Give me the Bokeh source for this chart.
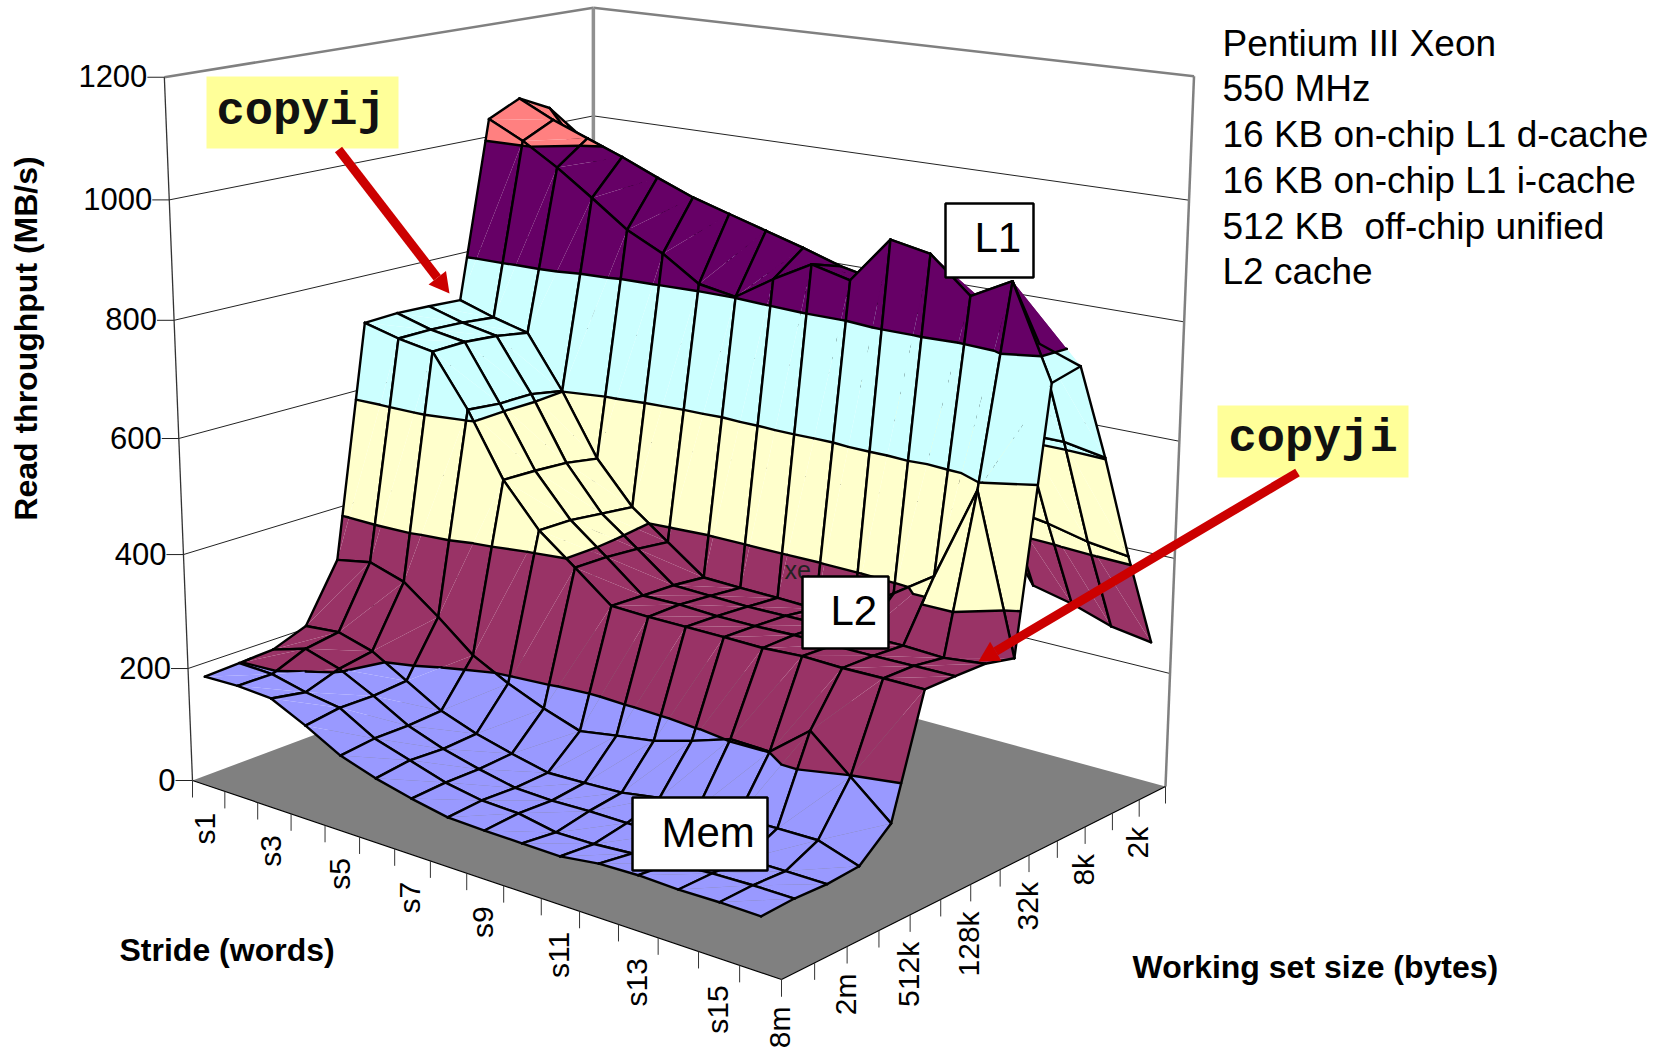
import math
import numpy as np
from bokeh.core.properties import value
from bokeh.embed import file_html
from bokeh.models import ColumnDataSource, Range1d
from bokeh.plotting import figure
from bokeh.resources import INLINE

# ---- data: read throughput (MB/s), one list per working set size, s1..s16 ----
STRIDES = ["s1", "s2", "s3", "s4", "s5", "s6", "s7", "s8", "s9", "s10", "s11", "s12", "s13", "s14", "s15", "s16"]
SIZES = ["8m", "4m", "2m", "1m", "512k", "256k", "128k", "64k", "32k", "16k", "8k", "4k", "2k", "1k"]
VALUE_TICKS = [0, 200, 400, 600, 800, 1000, 1200]
T_8M = [196, 198, 194, 165, 132, 112, 97, 85, 83, 82, 81, 90, 92, 90, 91, 90]
T_4M = [199, 197, 183, 174, 139, 120, 101, 90, 88, 76, 77, 82, 87, 91, 93, 93]
T_2M = [202, 221, 203, 173, 139, 117, 101, 88, 86, 88, 88, 90, 90, 90, 91, 91]
T_1M = [224, 230, 213, 178, 143, 121, 105, 91, 93, 96, 107, 110, 115, 116, 117, 95]
T_512K = [324, 336, 317, 271, 220, 188, 162, 141, 152, 162, 181, 203, 201, 255, 198, 141]
T_256K = [731, 716, 706, 618, 510, 437, 388, 338, 336, 336, 336, 335, 339, 337, 338, 338]
T_128K = [733, 716, 707, 612, 508, 436, 387, 336, 337, 334, 334, 336, 336, 336, 337, 338]
T_64K = [730, 713, 702, 612, 504, 429, 382, 334, 332, 330, 331, 332, 332, 332, 329, 337]
T_32K = [726, 707, 692, 601, 494, 422, 375, 328, 326, 325, 323, 338, 383, 429, 588, 325]
T_16K = [1037, 1008, 971, 928, 883, 853, 812, 802, 844, 881, 866, 945, 933, 876, 912, 760]
T_8K = [1062, 1033, 1010, 987, 961, 937, 919, 901, 883, 863, 850, 850, 835, 830, 795, 771]
T_4K = [1033, 960, 930, 900, 870, 840, 810, 790, 770, 750, 730, 700, 640, 615, 615, 603]
T_2K = [972, 920, 890, 860, 830, 801, 770, 750, 730, 700, 670, 620, 453, 442, 426, 417]
T_1K = [880, 850, 820, 790, 740, 700, 650, 601, 550, 500, 450, 399, 297, 281, 258, 247]
MESH = np.array([T_8M, T_4M, T_2M, T_1M, T_512K, T_256K, T_128K, T_64K, T_32K, T_16K, T_8K, T_4K, T_2K, T_1K], float)
BANDS = [(0, 200, "#9999FF"), (200, 400, "#993366"), (400, 600, "#FFFFCC"),
         (600, 800, "#CCFFFF"), (800, 1000, "#660066"), (1000, 1200, "#FF8080")]
ZMAX = 1200.0

# ---- camera: a projective map from (stride, size, value) to the page ----
FL, FF, FR, FB = (192, 780), (781, 979), (1165, 786), (593, 630)
TL, TB, TR = (165, 76), (593, 7), (1195, 78)
dx1, dy1 = FF[0] - FR[0], FF[1] - FR[1]
dx2, dy2 = FB[0] - FR[0], FB[1] - FR[1]
sx, sy = FL[0] - FF[0] + FR[0] - FB[0], FL[1] - FF[1] + FR[1] - FB[1]
det = dx1 * dy2 - dx2 * dy1
g = (sx * dy2 - dx2 * sy) / det
h = (dx1 * sy - sx * dy1) / det
a, b, c = FF[0] - FL[0] + g * FF[0], FB[0] - FL[0] + h * FB[0], FL[0]
d, e, f = FF[1] - FL[1] + g * FF[1], FB[1] - FL[1] + h * FB[1], FL[1]


def base(u, v):
    return a * u + b * v + c, d * u + e * v + f, g * u + h * v + 1.0


rows, rhs = [], []
for (X, Y), (u0, v0) in zip((TL, TB, TR), ((0, 0), (0, 1), (1, 1))):
    xn, yn, w0 = base(u0, v0)
    rows.append([1, 0, -X]); rhs.append(X * w0 - xn)
    rows.append([0, 1, -Y]); rhs.append(Y * w0 - yn)
pz, qz, rz = np.linalg.lstsq(np.array(rows, float), np.array(rhs, float), rcond=None)[0]


def project(u, v, val):
    z = val / ZMAX
    xn, yn, w0 = base(u, v)
    w = w0 + rz * z
    return (xn + pz * z) / w, (yn + qz * z) / w


# the chart's walls stand slightly off the surface's camera: a small lean per corner
LEAN_L, LEAN_B, LEAN_R = (-3.0, -5.3), (2.0, 6.4), (-2.0, -3.2)


def wall(u, v, val):
    P = project(u, v, val)
    z = val / ZMAX
    if u == 0:
        lx = (1 - v) * LEAN_L[0] + v * LEAN_B[0]
        ly = (1 - v) * LEAN_L[1] + v * LEAN_B[1]
    else:
        lx = (1 - u) * LEAN_B[0] + u * LEAN_R[0]
        ly = (1 - u) * LEAN_B[1] + u * LEAN_R[1]
    return P[0] + lx * z, P[1] + ly * z


def mesh_point(i, j):
    return ((i + 0.5) / len(STRIDES), j / (len(SIZES) - 1), MESH[j, i])


def clip(poly, level, keep_above):
    out = []
    n = len(poly)
    for k in range(n):
        A, B = poly[k], poly[(k + 1) % n]
        ina = A[2] >= level if keep_above else A[2] <= level
        inb = B[2] >= level if keep_above else B[2] <= level
        if ina:
            out.append(A)
        if ina != inb:
            t = (level - A[2]) / (B[2] - A[2])
            out.append((A[0] + t * (B[0] - A[0]), A[1] + t * (B[1] - A[1]), level))
    return out


xs, ys, fc, fa, la = [], [], [], [], []


def add_fill(pts, color):
    P = [project(*q) for q in pts]
    xs.append([q[0] for q in P]); ys.append([q[1] for q in P])
    fc.append(color); fa.append(1.0); la.append(0.0)


def add_line(A, B):
    P, Q = project(*A), project(*B)
    xs.append([P[0], Q[0]]); ys.append([P[1], Q[1]])
    fc.append("#000000"); fa.append(0.0); la.append(1.0)


def add_triangle(tri):
    for lo, hi, col in BANDS:
        poly = clip(clip(tri, lo, True), hi, False)
        if len(poly) >= 3:
            add_fill(poly, col)
    for lev in VALUE_TICKS[1:-1]:
        pts = []
        for k in range(3):
            A, B = tri[k], tri[(k + 1) % 3]
            if (A[2] - lev) * (B[2] - lev) < 0:
                t = (lev - A[2]) / (B[2] - A[2])
                pts.append((A[0] + t * (B[0] - A[0]), A[1] + t * (B[1] - A[1]), lev))
        if len(pts) == 2:
            add_line(pts[0], pts[1])


for i in range(len(STRIDES) - 1):
    for j in range(len(SIZES) - 2, -1, -1):
        P00, P10 = mesh_point(i, j), mesh_point(i + 1, j)
        P11, P01 = mesh_point(i + 1, j + 1), mesh_point(i, j + 1)
        add_triangle([P00, P11, P01])
        add_triangle([P00, P10, P11])
        for A, B in ((P00, P10), (P10, P11), (P11, P01), (P01, P00)):
            add_line(A, B)

# ---- figure ----
p = figure(width=1660, height=1050, output_backend="svg", toolbar_location=None,
           x_range=Range1d(0, 1660), y_range=Range1d(1050, 0), min_border=0)
p.xaxis.visible = False
p.yaxis.visible = False
p.grid.visible = False
p.outline_line_color = None
p.background_fill_color = "#FFFFFF"

SANS = value("Liberation Sans")
MONO = value("Liberation Mono")


def wseg(A, B, color="#000000", width=1.0):
    P, Q = wall(*A), wall(*B)
    p.line([P[0], Q[0]], [P[1], Q[1]], line_color=color, line_width=width)


def seg(A, B, color="#000000", width=1.0):
    P, Q = project(*A), project(*B)
    p.line([P[0], Q[0]], [P[1], Q[1]], line_color=color, line_width=width)


# walls
for val in VALUE_TICKS[1:-1]:
    wseg((0, 0, val), (0, 1, val), "#222222", 1.0)
    wseg((0, 1, val), (1, 1, val), "#222222", 1.0)
wseg((0, 0, ZMAX), (0, 1, ZMAX), "#808080", 2.5)
wseg((0, 1, ZMAX), (1, 1, ZMAX), "#808080", 2.5)
wseg((0, 1, 0), (0, 1, ZMAX), "#909090", 3.5)
wseg((1, 1, 0), (1, 1, ZMAX), "#808080", 2.5)
wseg((0, 0, 0), (0, 0, ZMAX), "#333333", 1.3)

# floor
corners = [project(u0, v0, 0) for u0, v0 in ((0, 0), (1, 0), (1, 1), (0, 1))]
p.patch([q[0] for q in corners], [q[1] for q in corners], fill_color="#808080", line_color=None)
seg((0, 0, 0), (1, 0, 0), "#000000", 1.2)
seg((1, 0, 0), (1, 1, 0), "#000000", 1.2)

# ticks and their labels
TICK = 17
tick_x, tick_y, tick_t = [], [], []
for val in VALUE_TICKS:
    P = wall(0, 0, val)
    p.line([P[0] - TICK, P[0]], [P[1], P[1]], line_color="#222222", line_width=1)
    tick_x.append(P[0] - TICK); tick_y.append(P[1] - 1); tick_t.append(str(val))
p.text(tick_x, tick_y, text=tick_t, text_font=SANS, text_font_size="31px", text_align="right",
       text_baseline="middle", text_color="#000000")

lab_x, lab_y, lab_t = [], [], []
for k in range(len(STRIDES) + 1):
    P = project(k / len(STRIDES), 0, 0)
    p.line([P[0], P[0]], [P[1], P[1] + TICK], line_color="#333333", line_width=1)
for k in range(0, len(STRIDES), 2):
    u0 = (k + 0.5) / len(STRIDES)
    P = project(u0, 0, 0)
    lab_x.append(P[0] - 1 - 3 * (1 - u0)); lab_y.append(P[1] + 27); lab_t.append(STRIDES[k])
for k in range(len(SIZES)):
    P = project(1, k / (len(SIZES) - 1), 0)
    p.line([P[0], P[0]], [P[1], P[1] + TICK], line_color="#333333", line_width=1)
    if k % 2 == 0:
        lab_x.append(P[0] - 2); lab_y.append(P[1] + 27); lab_t.append(SIZES[k])
p.text(lab_x, lab_y, text=lab_t, angle=math.pi / 2, text_font=SANS, text_font_size="30px",
       text_align="right", text_baseline="middle", text_color="#000000")

# surface
src = ColumnDataSource(dict(xs=xs, ys=ys, fc=fc, fa=fa, la=la))
p.patches("xs", "ys", source=src, fill_color="fc", fill_alpha="fa", line_color="#000000",
          line_alpha="la", line_width=2.4, line_join="round")

# axis titles
p.text([25], [338], text=["Read throughput (MB/s)"], angle=math.pi / 2, text_font=SANS, text_font_size="32px",
       text_font_style="bold", text_align="center", text_baseline="middle", text_color="#000000")
p.text([119], [949], text=["Stride (words)"], text_font=SANS, text_font_size="32px",
       text_font_style="bold", text_align="left", text_baseline="middle", text_color="#000000")
p.text([1132], [966], text=["Working set size (bytes)"], text_font=SANS, text_font_size="32px",
       text_font_style="bold", text_align="left", text_baseline="middle", text_color="#000000")

# processor notes
NOTES = ["Pentium III Xeon", "550 MHz", "16 KB on-chip L1 d-cache", "16 KB on-chip L1 i-cache",
         "512 KB\u00a0 off-chip unified", "L2 cache"]
NOTE_Y = [43, 88, 134, 180, 226, 271]
p.text([1222] * len(NOTES), NOTE_Y, text=NOTES, text_font=SANS, text_font_size="37px", text_align="left",
       text_baseline="middle", text_color="#000000")

# level labels
p.text([784], [569], text=["xe"], text_font=SANS, text_font_size="25px", text_align="left",
       text_baseline="middle", text_color="#222222")
for (x0, y0, x1, y1), label, tx, ty in (((632, 797, 767, 870), "Mem", 661, 832),
                                        ((802, 576, 888, 648), "L2", 830, 610),
                                        ((945, 203, 1033, 277), "L1", 974, 237)):
    p.quad(left=[x0], right=[x1], top=[y0], bottom=[y1], fill_color="#FFFFFF", line_color="#000000", line_width=2.5)
    p.text([tx], [ty], text=[label], text_font=SANS, text_font_size="42px", text_align="left",
           text_baseline="middle", text_color="#000000")

# copy labels
for (x0, y0, x1, y1), label, tx, ty in (((206, 76, 398, 148), "copyij", 216, 111),
                                        ((1217, 405, 1408, 477), "copyji", 1228, 438)):
    p.quad(left=[x0], right=[x1], top=[y0], bottom=[y1], fill_color="#FFFF99", line_color=None)
    p.text([tx], [ty], text=[label], text_font=MONO, text_font_size="47px", text_font_style="bold",
           text_align="left", text_baseline="middle", text_color="#111111")


def arrow(x0, y0, x1, y1):
    L = math.hypot(x1 - x0, y1 - y0)
    ux, uy = (x1 - x0) / L, (y1 - y0) / L
    nx, ny = -uy, ux
    hl, hw = 20.0, 11.0
    bx, by = x1 - ux * hl, y1 - uy * hl
    p.line([x0, bx], [y0, by], line_color="#CC0000", line_width=9)
    p.patch([x1, bx + nx * hw, bx - nx * hw], [y1, by + ny * hw, by - ny * hw], fill_color="#CC0000", line_color=None)


arrow(338, 149, 449, 293)
arrow(1297, 472, 978, 661)

open("out.html", "w").write(file_html(p, INLINE))
